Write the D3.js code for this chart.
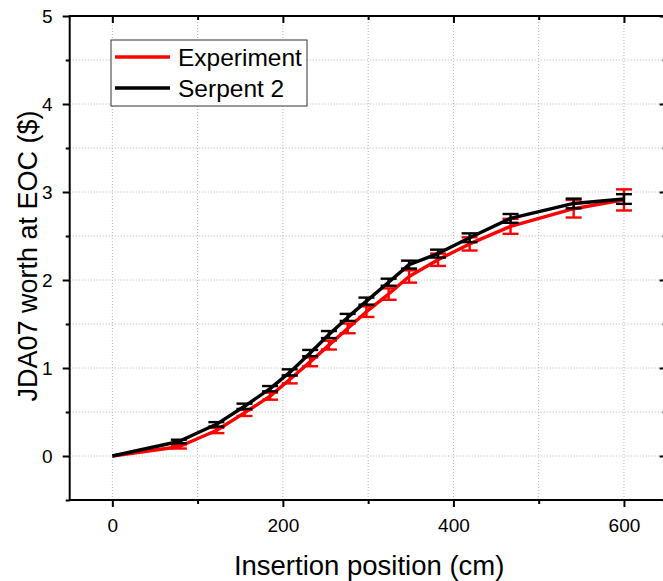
<!DOCTYPE html>
<html>
<head>
<meta charset="utf-8">
<title>JDA07 worth at EOC</title>
<script src="https://cdn.jsdelivr.net/npm/d3@7"></script>
<style>
  body { margin: 0; background: #fff; }
  text { font-family: "Liberation Sans", Arial, sans-serif; fill: #000; }
  .grid line { stroke: #b4b4b4; stroke-width: 1; stroke-dasharray: 1,2; }
</style>
</head>
<body>
<script>
// insertion positions (cm)
var positions = [0, 78, 122, 155, 185, 208, 232, 254, 276, 298, 324, 348, 382, 419, 467, 541, 600];
// measured worth ($) and its uncertainty
var expWorth = [0, 0.105, 0.29, 0.49, 0.68, 0.87, 1.07, 1.26, 1.45, 1.64, 1.84, 2.04, 2.23, 2.41, 2.61, 2.81, 2.91];
var expErr   = [0, 0.02, 0.03, 0.035, 0.04, 0.045, 0.05, 0.05, 0.055, 0.06, 0.065, 0.07, 0.07, 0.075, 0.085, 0.1, 0.12];
// Serpent 2 calculation
var serpWorth = [0, 0.165, 0.36, 0.565, 0.765, 0.95, 1.17, 1.38, 1.575, 1.76, 1.975, 2.175, 2.3, 2.48, 2.7, 2.87, 2.92];
var serpErr   = [0, 0.02, 0.025, 0.03, 0.03, 0.035, 0.035, 0.04, 0.04, 0.04, 0.04, 0.045, 0.045, 0.05, 0.05, 0.055, 0.055];

var xMajor = [0, 200, 400, 600], xMinor = [100, 300, 500];
var yMajor = [0, 1, 2, 3, 4, 5], yMinor = [-0.5, 0.5, 1.5, 2.5, 3.5, 4.5];
var xGrid = [0, 100, 200, 300, 400, 500, 600];
var yGrid = [0, 0.5, 1, 1.5, 2, 2.5, 3, 3.5, 4, 4.5];

var width = 663, height = 581;
var L = 69.7, R = 666.6, T = 16, B = 500;

var svg = d3.select("body").append("svg")
  .attr("width", width).attr("height", height);

var x = d3.scaleLinear().domain([-50, 650]).range([L, R]);
var y = d3.scaleLinear().domain([-0.5, 5]).range([B, T]);

// grid
var grid = svg.append("g").attr("class", "grid");
grid.selectAll(".gx").data(xGrid).enter().append("line")
  .attr("x1", function(d){ return x(d); }).attr("x2", function(d){ return x(d); })
  .attr("y1", T).attr("y2", B);
grid.selectAll(".gy").data(yGrid).enter().append("line")
  .attr("y1", function(d){ return y(d); }).attr("y2", function(d){ return y(d); })
  .attr("x1", L).attr("x2", R);

function axisPair(axisFn, scale, vals, size, fmt) {
  return axisFn(scale).tickValues(vals).tickSize(size).tickSizeOuter(0).tickFormat(fmt);
}
var noLab = function(){ return ""; };

// bottom
var gB = svg.append("g").attr("transform", "translate(0," + B + ")");
gB.call(axisPair(d3.axisBottom, x, xMajor, 7, d3.format("d")));
gB.append("g").call(axisPair(d3.axisBottom, x, xMinor, 4, noLab));
gB.selectAll("text").attr("font-size", 19).attr("dy", "1.05em").attr("y", 12);
// top (inward)
var gT = svg.append("g").attr("transform", "translate(0," + T + ")");
gT.call(axisPair(d3.axisBottom, x, xMajor, 7, noLab));
gT.append("g").call(axisPair(d3.axisBottom, x, xMinor, 4, noLab));
// left
var gL = svg.append("g").attr("transform", "translate(" + L + ",0)");
gL.call(axisPair(d3.axisLeft, y, yMajor, 7, d3.format("d")));
gL.append("g").call(axisPair(d3.axisLeft, y, yMinor, 4, noLab));
gL.selectAll("text").attr("font-size", 19).attr("x", -17);
// right (inward)
var gR = svg.append("g").attr("transform", "translate(" + R + ",0)");
gR.call(axisPair(d3.axisLeft, y, yMajor, 7, noLab));
gR.append("g").call(axisPair(d3.axisLeft, y, yMinor, 4, noLab));

svg.selectAll(".domain").remove();
svg.selectAll(".tick line").attr("stroke", "#000").attr("stroke-width", 2);

// frame
svg.append("rect").attr("x", L).attr("y", T).attr("width", R - L).attr("height", B - T)
  .attr("fill", "none").attr("stroke", "#000").attr("stroke-width", 2);

// series
function drawSeries(vals, errs, color) {
  var pts = positions.map(function(p, i){ return {x: p, y: vals[i], e: errs[i]}; });
  var g = svg.append("g");
  g.append("path").datum(pts)
    .attr("fill", "none").attr("stroke", color).attr("stroke-width", 3.4)
    .attr("stroke-linejoin", "round")
    .attr("d", d3.line().x(function(d){ return x(d.x); }).y(function(d){ return y(d.y); }));
  var eb = g.selectAll(".eb").data(pts.filter(function(d){ return d.e > 0; })).enter().append("g")
    .attr("stroke", color).attr("stroke-width", 2.4);
  eb.append("line")
    .attr("x1", function(d){ return x(d.x); }).attr("x2", function(d){ return x(d.x); })
    .attr("y1", function(d){ return y(d.y - d.e); }).attr("y2", function(d){ return y(d.y + d.e); });
  [-1, 1].forEach(function(s){
    eb.append("line")
      .attr("x1", function(d){ return x(d.x) - 8; }).attr("x2", function(d){ return x(d.x) + 8; })
      .attr("y1", function(d){ return y(d.y + s * d.e); }).attr("y2", function(d){ return y(d.y + s * d.e); });
  });
}
drawSeries(expWorth, expErr, "#ff0000");
drawSeries(serpWorth, serpErr, "#000000");

// axis titles
svg.append("text").attr("x", (x(0) + x(600)) / 2 + 1).attr("y", 575)
  .attr("text-anchor", "middle").attr("font-size", 27.5).text("Insertion position (cm)");
svg.append("text").attr("transform", "translate(37," + (y(2.25) - 2) + ") rotate(-90)")
  .attr("text-anchor", "middle").attr("font-size", 27).text("JDA07 worth at EOC ($)");

// legend
var leg = svg.append("g");
leg.append("rect").attr("x", 111).attr("y", 40).attr("width", 196).attr("height", 66)
  .attr("fill", "#fff").attr("stroke", "#333").attr("stroke-width", 1);
var legItems = [{name: "Experiment", color: "#ff0000"}, {name: "Serpent 2", color: "#000000"}];
legItems.forEach(function(d, i){
  var cy = 57 + i * 31;
  leg.append("line").attr("x1", 115).attr("x2", 170).attr("y1", cy).attr("y2", cy)
    .attr("stroke", d.color).attr("stroke-width", 3.4);
  leg.append("text").attr("x", 178).attr("y", cy + 8.5).attr("font-size", 24.5).text(d.name);
});
</script>
</body>
</html>
